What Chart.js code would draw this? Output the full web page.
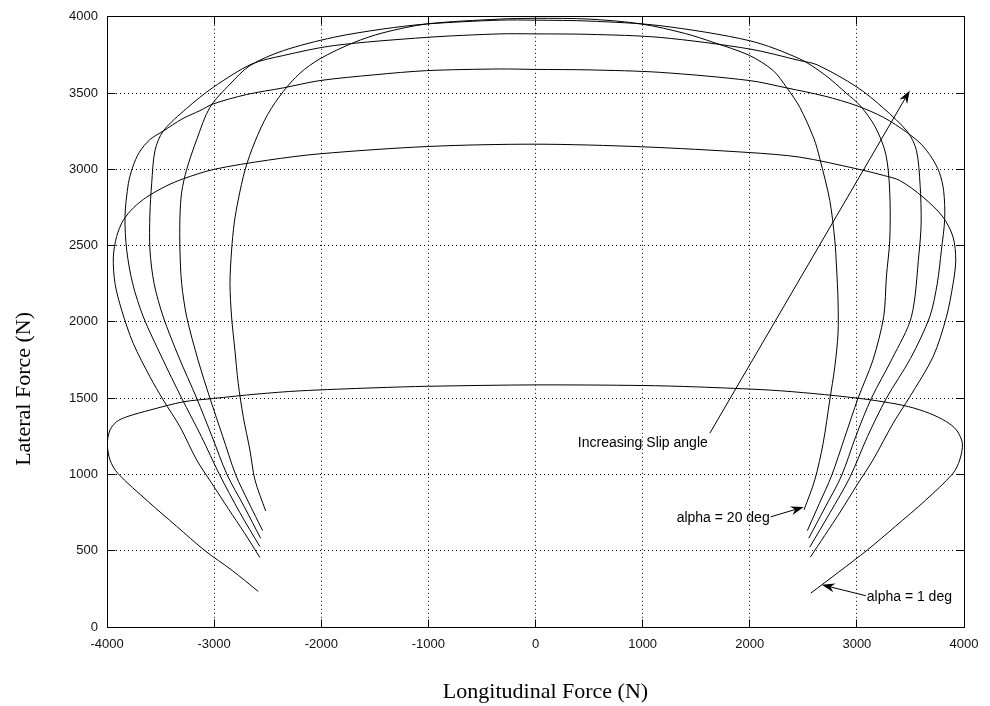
<!DOCTYPE html>
<html>
<head>
<meta charset="utf-8">
<title>Lateral vs longitudinal tyre force</title>
<script src="https://cdn.jsdelivr.net/npm/chart.js@4.4.1/dist/chart.umd.min.js"></script>
<style>
  html, body { margin: 0; padding: 0; background: #fff; }
  #wrap { width: 990px; height: 706px; }
</style>
</head>
<body>
<div id="wrap"><canvas id="forceChart" width="990" height="706"></canvas></div>
<script>
// axis ticks
const xTicks = [-4000, -3000, -2000, -1000, 0, 1000, 2000, 3000, 4000];
const yTicks = [0, 500, 1000, 1500, 2000, 2500, 3000, 3500, 4000];

// one friction curve per slip angle, longitudinal force (Fx) against lateral force (Fy), N
const alpha1Fx = [-2588, -2830, -3085, -3350, -3620, -3900, -3972, -3997, -3972, -3910, -3816, -3599, -3288, -3008, -2600, -2199, -1500, -1000, 0, 1000, 1500, 2186, 2600, 3007, 3250, 3480, 3680, 3836, 3930, 3985, 3960, 3898, 3640, 3360, 3100, 2830, 2570];
const alpha1Fy = [233, 370, 500, 660, 825, 1008, 1095, 1204, 1291, 1346, 1378, 1422, 1476, 1498, 1527, 1548, 1568, 1578, 1587, 1583, 1574, 1553, 1530, 1500, 1476, 1445, 1400, 1346, 1291, 1204, 1095, 1008, 830, 660, 506, 360, 222];

const curve2Fx = [-2573, -2720, -2868, -3020, -3163, -3319, -3475, -3599, -3755, -3863, -3925, -3941, -3910, -3848, -3750, -3630, -3450, -3288, -3008, -2500, -2012, -1000, 0, 990, 2000, 2467, 2996, 3250, 3400, 3618, 3804, 3898, 3923, 3898, 3836, 3711, 3494, 3338, 3151, 3000, 2850, 2700, 2566];
const curve2Fy = [456, 620, 776, 940, 1095, 1313, 1488, 1640, 1859, 2077, 2251, 2425, 2560, 2666, 2750, 2818, 2890, 2938, 2999, 3060, 3102, 3150, 3165, 3148, 3110, 3080, 3004, 2960, 2927, 2818, 2687, 2556, 2404, 2251, 2033, 1771, 1509, 1335, 1096, 930, 760, 600, 458];

const curve3Fx = [-2573, -2760, -2950, -3120, -3303, -3490, -3661, -3760, -3816, -3832, -3801, -3760, -3700, -3600, -3475, -3300, -3132, -3008, -2700, -2355, -2012, -1500, -1017, -333, 0, 500, 1160, 2000, 2343, 2700, 2996, 3250, 3463, 3600, 3700, 3770, 3810, 3820, 3789, 3750, 3680, 3500, 3276, 3100, 2934, 2750, 2560];
const curve3Fy = [527, 750, 1000, 1250, 1500, 1770, 2033, 2250, 2470, 2688, 2906, 3015, 3110, 3195, 3251, 3330, 3385, 3429, 3490, 3534, 3582, 3620, 3647, 3658, 3655, 3652, 3636, 3582, 3534, 3480, 3418, 3340, 3244, 3165, 3075, 2980, 2860, 2677, 2470, 2250, 2033, 1760, 1500, 1250, 980, 750, 523];

const curve4Fx = [-2566, -2720, -2880, -3020, -3163, -3330, -3475, -3560, -3599, -3600, -3583, -3552, -3475, -3256, -3008, -2650, -2355, -1888, -1017, -333, 0, 500, 1160, 2000, 2467, 2630, 3000, 3250, 3475, 3556, 3590, 3600, 3580, 3509, 3330, 3136, 2990, 2856, 2700, 2551];
const curve4Fy = [582, 790, 1000, 1250, 1500, 1770, 2033, 2250, 2470, 2700, 2906, 3124, 3251, 3400, 3538, 3690, 3746, 3811, 3865, 3888, 3888, 3885, 3865, 3789, 3713, 3685, 3540, 3400, 3244, 3124, 2900, 2650, 2450, 2033, 1760, 1500, 1250, 990, 780, 582];

const curve5Fx = [-2547, -2680, -2800, -2920, -3039, -3150, -3256, -3303, -3319, -3319, -3303, -3256, -3160, -3039, -2850, -2666, -2355, -1888, -1424, -1017, -333, 0, 500, 1160, 2000, 2467, 2700, 2900, 3030, 3170, 3270, 3307, 3307, 3276, 3250, 3150, 3011, 2890, 2763, 2650, 2538];
const curve5Fy = [632, 820, 1000, 1250, 1500, 1750, 2033, 2251, 2470, 2688, 2850, 3000, 3200, 3407, 3560, 3680, 3778, 3865, 3920, 3953, 3978, 3978, 3972, 3942, 3843, 3724, 3620, 3500, 3418, 3280, 3100, 2850, 2536, 2300, 2033, 1750, 1500, 1250, 990, 810, 632];

const alpha20Fx = [-2519, -2619, -2666, -2728, -2775, -2806, -2837, -2852, -2837, -2812, -2775, -2710, -2620, -2500, -2355, -2199, -2012, -1700, -1424, -1017, -333, 0, 500, 989, 1400, 1658, 2000, 2218, 2343, 2467, 2600, 2654, 2747, 2794, 2810, 2824, 2824, 2794, 2747, 2685, 2607, 2507];
const alpha20Fy = [761, 964, 1160, 1378, 1597, 1815, 2033, 2251, 2470, 2650, 2800, 3000, 3180, 3360, 3510, 3630, 3725, 3830, 3895, 3953, 3985, 3990, 3985, 3953, 3890, 3833, 3746, 3648, 3538, 3407, 3200, 3070, 2797, 2536, 2360, 2142, 1924, 1706, 1488, 1204, 964, 768];

const curveNames = ["alpha = 1 deg", "curve 2", "curve 3", "curve 4", "curve 5", "alpha = 20 deg"];
const curveFx = [alpha1Fx, curve2Fx, curve3Fx, curve4Fx, curve5Fx, alpha20Fx];
const curveFy = [alpha1Fy, curve2Fy, curve3Fy, curve4Fy, curve5Fy, alpha20Fy];

// text notes and their arrows, in data units
const noteText  = ["Increasing Slip angle", "alpha = 20 deg", "alpha = 1 deg"];
const noteFx    = [395, 2186, 3092];
const noteFy    = [1206, 715, 198];
const noteAlign = ["left", "right", "left"];
const arrowFromFx = [1627, 2196, 3083];
const arrowFromFy = [1270, 722, 205];
const arrowToFx   = [3494, 2504, 2672];
const arrowToFy   = [3517, 787, 277];

const SANS = "'Liberation Sans', Arial, Helvetica, sans-serif";
const SERIF = "'Liberation Serif', 'Times New Roman', serif";

Chart.defaults.font.family = SANS;

function crisp(v) {
  return Math.round(v - 0.5) + 0.5;
}

function arrowHead(ctx, x0, y0, x1, y1) {
  const ang = Math.atan2(y1 - y0, x1 - x0);
  ctx.save();
  ctx.translate(x1, y1);
  ctx.rotate(ang);
  ctx.beginPath();
  ctx.moveTo(0, 0);
  ctx.lineTo(-13, -4.5);
  ctx.lineTo(-9, 0);
  ctx.lineTo(-13, 4.5);
  ctx.closePath();
  ctx.fill();
  ctx.restore();
}

// solid box with inward tick marks on all four sides
const framePlugin = {
  id: "frame",
  afterDraw(chart) {
    const { ctx, chartArea: a, scales } = chart;
    const L = crisp(a.left), R = crisp(a.right), T = crisp(a.top), B = crisp(a.bottom);
    ctx.save();
    ctx.strokeStyle = "#000";
    ctx.lineWidth = 1;
    ctx.strokeRect(L, T, R - L, B - T);
    ctx.beginPath();
    xTicks.forEach(v => {
      const px = crisp(scales.x.getPixelForValue(v));
      ctx.moveTo(px, B); ctx.lineTo(px, B - 8);
      ctx.moveTo(px, T); ctx.lineTo(px, T + 8);
    });
    yTicks.forEach(v => {
      const py = crisp(scales.y.getPixelForValue(v));
      ctx.moveTo(L, py); ctx.lineTo(L + 8, py);
      ctx.moveTo(R, py); ctx.lineTo(R - 8, py);
    });
    ctx.stroke();

    // axis titles
    ctx.fillStyle = "#000";
    ctx.font = "22px " + SERIF;
    ctx.textAlign = "center";
    ctx.textBaseline = "middle";
    ctx.fillText("Longitudinal Force (N)", (a.left + a.right) / 2 + 10, a.bottom + 65);
    ctx.save();
    ctx.translate(24, (a.top + a.bottom) / 2 + 67);
    ctx.rotate(-Math.PI / 2);
    ctx.fillText("Lateral Force (N)", 0, 0);
    ctx.restore();
    ctx.restore();
  }
};

// labels with arrows pointing at the curves
const notesPlugin = {
  id: "notes",
  afterDatasetsDraw(chart) {
    const { ctx, scales: { x, y } } = chart;
    ctx.save();
    ctx.strokeStyle = "#000";
    ctx.fillStyle = "#000";
    ctx.lineWidth = 1;
    arrowFromFx.forEach((fx, i) => {
      const x0 = x.getPixelForValue(fx), y0 = y.getPixelForValue(arrowFromFy[i]);
      const x1 = x.getPixelForValue(arrowToFx[i]), y1 = y.getPixelForValue(arrowToFy[i]);
      const len = Math.hypot(x1 - x0, y1 - y0);
      ctx.beginPath();
      ctx.moveTo(x0, y0);
      ctx.lineTo(x1 - (x1 - x0) * 9 / len, y1 - (y1 - y0) * 9 / len);
      ctx.stroke();
      arrowHead(ctx, x0, y0, x1, y1);
    });
    ctx.font = "14px " + SANS;
    ctx.textBaseline = "middle";
    noteText.forEach((t, i) => {
      ctx.textAlign = noteAlign[i];
      ctx.fillText(t, x.getPixelForValue(noteFx[i]), y.getPixelForValue(noteFy[i]));
    });
    ctx.restore();
  }
};

const datasets = curveNames.map((name, i) => ({
  label: name,
  data: curveFx[i].map((fx, j) => ({ x: fx, y: curveFy[i][j] })),
  showLine: true,
  borderColor: "#000",
  borderWidth: 1,
  pointRadius: 0,
  tension: 0.3,
  fill: false
}));

const gridStyle = { color: "#000", lineWidth: 1, drawTicks: false };

new Chart(document.getElementById("forceChart"), {
  type: "scatter",
  data: { datasets },
  options: {
    responsive: false,
    animation: false,
    events: [],
    layout: { padding: { top: 16, right: 26, left: 0, bottom: 0 } },
    plugins: { legend: { display: false }, tooltip: { enabled: false } },
    scales: {
      x: {
        type: "linear",
        min: -4000,
        max: 4000,
        afterBuildTicks: s => { s.ticks = xTicks.map(v => ({ value: v })); },
        afterFit: s => { s.height = 79; },
        grid: gridStyle,
        border: { display: true, color: "#000", dash: [1, 3] },
        ticks: { color: "#111", font: { size: 13 }, padding: 10, maxRotation: 0, callback: v => String(v) }
      },
      y: {
        type: "linear",
        min: 0,
        max: 4000,
        afterBuildTicks: s => { s.ticks = yTicks.map(v => ({ value: v })); },
        afterFit: s => { s.width = 107; },
        grid: gridStyle,
        border: { display: true, color: "#000", dash: [1, 3] },
        ticks: { color: "#111", font: { size: 13 }, padding: 9, callback: v => String(v) }
      }
    }
  },
  plugins: [notesPlugin, framePlugin]
});
</script>
</body>
</html>
